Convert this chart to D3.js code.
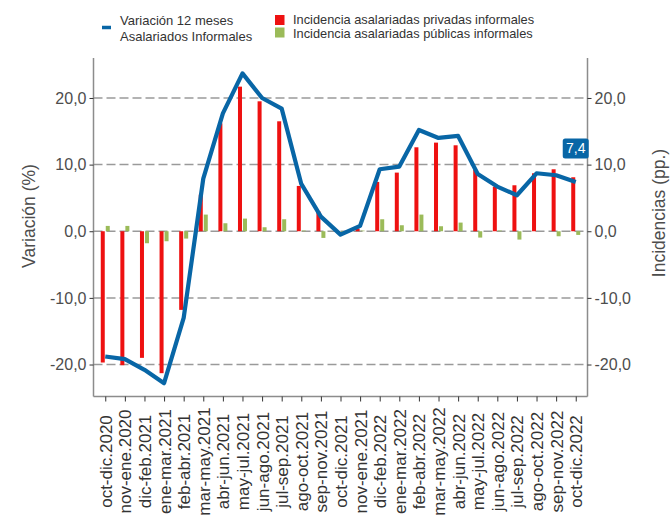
<!DOCTYPE html>
<html>
<head>
<meta charset="utf-8">
<script src="https://cdn.jsdelivr.net/npm/d3@7"></script>
<style>
  body { margin: 0; background: #fff; }
  svg { display: block; font-family: "Liberation Sans", Arial, sans-serif; }
</style>
</head>
<body>
<svg id="chart" width="670" height="520"></svg>
<script>
const categories = ["oct-dic.2020","nov-ene.2020","dic-feb.2021","ene-mar.2021","feb-abr.2021","mar-may.2021","abr-jun.2021","may-jul.2021","jun-ago.2021","jul-sep.2021","ago-oct.2021","sep-nov.2021","oct-dic.2021","nov-ene.2021","dic-feb.2022","ene-mar.2022","feb-abr.2022","mar-may.2022","abr-jun.2022","may-jul.2022","jun-ago.2022","jul-sep.2022","ago-oct.2022","sep-nov.2022","oct-dic.2022"];
const privadas = [-19.7, -20.1, -19.0, -21.3, -11.8, 5.5, 16.2, 21.7, 19.5, 16.5, 6.8, 3.0, 0.0, 0.4, 7.4, 8.8, 12.6, 13.3, 12.9, 9.2, 6.7, 6.9, 8.7, 9.3, 8.1];
const publicas = [0.8, 0.8, -1.8, -1.5, -1.1, 2.5, 1.2, 1.9, 0.6, 1.8, 0.1, -1.0, -0.1, 0.1, 1.8, 0.9, 2.5, 0.75, 1.3, -0.95, 0.1, -1.25, 0.0, -0.75, -0.55];
const variacion = [-18.8, -19.2, -20.8, -22.8, -13.0, 7.9, 17.7, 23.7, 20.0, 18.4, 7.1, 2.2, -0.5, 0.8, 9.3, 9.7, 15.2, 14.0, 14.3, 8.6, 6.7, 5.4, 8.7, 8.4, 7.4];
const yTicks = [-20, -10, 0, 10, 20];
const legendLine = ["Variación 12 meses", "Asalariados Informales"];
const legendBars = ["Incidencia asalariadas privadas informales", "Incidencia asalariadas públicas informales"];

const colLine = "#0866a6", colRed = "#ee1111", colGreen = "#9bbb59";
const fmt = v => d3.format(".1f")(v).replace(".", ",").replace("−", "-");

const svg = d3.select("#chart");
const L = 93.5, R = 587.5, T = 58, B = 396.5;

const x = d3.scalePoint().domain(categories).range([L, R]).padding(0.6);
const y = d3.scaleLinear().domain([-24.8, 26]).range([B, T]);

svg.append("g").selectAll("line").data(yTicks).join("line")
  .attr("x1", L).attr("x2", R)
  .attr("y1", d => y(d)).attr("y2", d => y(d))
  .attr("stroke", "#9a9a9a").attr("stroke-width", 1.5)
  .attr("stroke-dasharray", "9,4");

const bw = 4;
svg.append("g").selectAll("rect").data(privadas).join("rect")
  .attr("x", (d, i) => x(categories[i]) - bw - 0.5)
  .attr("width", bw)
  .attr("y", d => y(Math.max(0, d)))
  .attr("height", d => Math.abs(y(d) - y(0)))
  .attr("fill", colRed);
svg.append("g").selectAll("rect").data(publicas).join("rect")
  .attr("x", (d, i) => x(categories[i]) + 0.5)
  .attr("width", bw)
  .attr("y", d => y(Math.max(0, d)))
  .attr("height", d => Math.abs(y(d) - y(0)))
  .attr("fill", colGreen);

const line = d3.line().x((d, i) => x(categories[i])).y(d => y(d));
svg.append("path").datum(variacion)
  .attr("d", line).attr("fill", "none")
  .attr("stroke", colLine).attr("stroke-width", 4.2)
  .attr("stroke-linejoin", "round");

const axisCol = "#8c8c8c";
const yl = svg.append("g").attr("transform", `translate(${L},0)`)
  .call(d3.axisLeft(y).tickValues(yTicks).tickFormat(fmt).tickSize(4).tickSizeOuter(0));
const yr = svg.append("g").attr("transform", `translate(${R},0)`)
  .call(d3.axisRight(y).tickValues(yTicks).tickFormat(fmt).tickSize(4).tickSizeOuter(0));
const xa = svg.append("g").attr("transform", `translate(0,${B})`)
  .call(d3.axisBottom(x).tickSize(5).tickSizeOuter(0));
[yl, yr, xa].forEach(g => {
  g.select(".domain").attr("stroke", axisCol).attr("stroke-width", 1.5);
  g.selectAll(".tick line").attr("stroke", "#333").attr("stroke-width", 1);
});
yl.select(".domain").attr("d", `M0,${T}V${B}`);
yr.select(".domain").attr("d", `M0,${T}V${B}`);
xa.select(".domain").attr("d", `M${L},0H${R}`);

yl.selectAll(".tick text").attr("font-size", 16).attr("fill", "#4d4d4d").attr("x", -7)
  .attr("font-family", "Liberation Sans, Arial, sans-serif");
yr.selectAll(".tick text").attr("font-size", 16).attr("fill", "#4d4d4d").attr("x", 7)
  .attr("font-family", "Liberation Sans, Arial, sans-serif");
xa.selectAll(".tick text")
  .attr("font-size", 17).attr("fill", "#333")
  .attr("font-family", "Liberation Sans, Arial, sans-serif")
  .attr("transform", "rotate(-90)")
  .attr("text-anchor", "middle")
  .attr("x", -(461.5 - B)).attr("y", 0).attr("dy", "0.35em");

svg.append("text").attr("transform", "translate(35,216) rotate(-90)")
  .attr("text-anchor", "middle").attr("font-size", 17.5).attr("fill", "#4d4d4d")
  .text("Variación (%)");
svg.append("text").attr("transform", "translate(665,213) rotate(-90)")
  .attr("text-anchor", "middle").attr("font-size", 17.5).attr("fill", "#4d4d4d")
  .text("Incidencias (pp.)");

const li = variacion.length - 1;
const lx = x(categories[li]), ly = y(variacion[li]);
svg.append("rect").attr("x", lx - 13).attr("y", ly - 43.5).attr("width", 26).attr("height", 20)
  .attr("rx", 2.5).attr("fill", colLine);
svg.append("text").attr("x", lx).attr("y", ly - 28.5).attr("text-anchor", "middle")
  .attr("font-size", 14).attr("fill", "#fff").text(fmt(variacion[li]));

svg.append("line").attr("x1", 102).attr("x2", 111).attr("y1", 27.5).attr("y2", 27.5)
  .attr("stroke", colLine).attr("stroke-width", 3.5);
svg.append("text").attr("x", 120).attr("y", 25).attr("font-size", 13).attr("fill", "#333").text(legendLine[0]);
svg.append("text").attr("x", 120).attr("y", 41).attr("font-size", 13).attr("fill", "#333").text(legendLine[1]);
svg.append("rect").attr("x", 275).attr("y", 15).attr("width", 9.5).attr("height", 10).attr("fill", colRed);
svg.append("rect").attr("x", 275).attr("y", 27.5).attr("width", 9.5).attr("height", 10).attr("fill", colGreen);
svg.append("text").attr("x", 293).attr("y", 24).attr("font-size", 12.8).attr("fill", "#333").text(legendBars[0]);
svg.append("text").attr("x", 293).attr("y", 38).attr("font-size", 12.8).attr("fill", "#333").text(legendBars[1]);
</script>
</body>
</html>
